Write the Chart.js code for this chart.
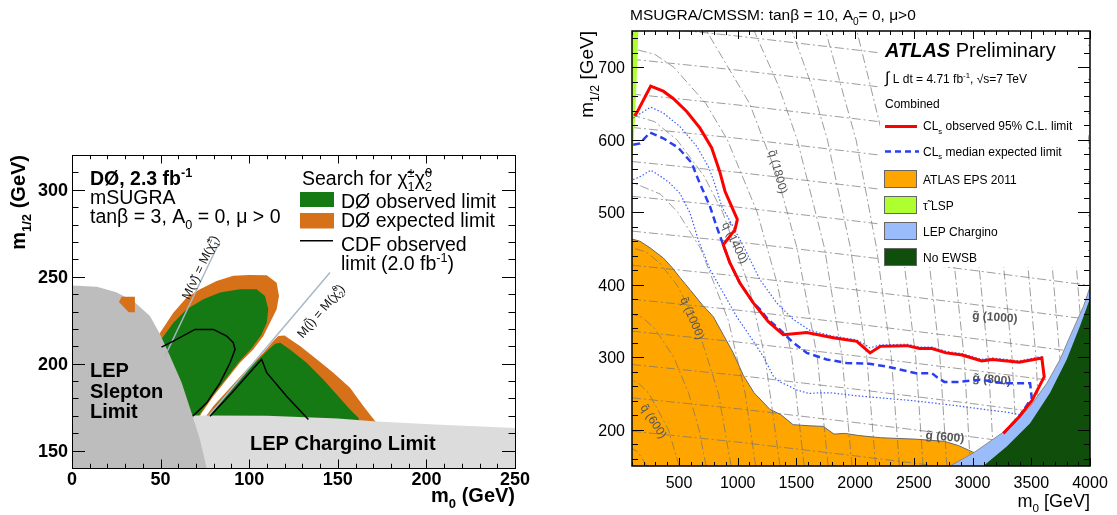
<!DOCTYPE html>
<html lang="en">
<head>
<meta charset="UTF-8">
<title>mSUGRA exclusion limits</title>
<script src="https://cdn.jsdelivr.net/npm/chart.js"></script>
<style>
  body { margin: 0; background: #fff; width: 1117px; height: 515px; overflow: hidden; position: relative; }
  .panel { position: absolute; }
  #leftBox { left: 0; top: 140px; width: 540px; height: 375px; }
  #rightBox { left: 560px; top: 0; width: 557px; height: 515px; }
</style>
</head>
<body>
<div class="panel" id="leftBox"><canvas id="leftChart"></canvas></div>
<div class="panel" id="rightBox"><canvas id="rightChart"></canvas></div>
<script>
// ---------- left panel (D0, m0 vs m1/2) ----------
const leftXTicks = [0, 50, 100, 150, 200, 250];
const leftYTicks = [150, 200, 250, 300];

const lepSlepton = [[0,140],[0,245],[14,244.3],[25,241],[34.6,236],[44,227.4],[49.7,216.9],[55.3,204.4],[61.9,189],[67.5,171.7],[72.2,156.4],[76,140]];
const lepChargino = [[0,140],[0,170.5],[110,170],[150,168.5],[172,166.8],[205,165],[250,163],[250,140]];
const d0ExpUpper = [[60,166],[43,205],[47,213],[49.7,217.8],[57.2,229.3],[64.7,238],[72.2,242.8],[81.6,247.6],[91,250.5],[100,251],[109.9,250.8],[115.5,246.6],[116.8,238.9],[115.5,231.3],[112.7,225.5],[108,215.9],[102.3,208.2],[94.8,200.5],[87.3,190.9],[79.8,181.3],[73.2,171.7],[70,166]];
const d0ObsUpper = [[60,166],[45,205],[49.7,213],[57.2,223.6],[64.7,231.3],[74.1,237],[83.5,240.9],[94.8,242.8],[104.2,242.8],[108.9,238.9],[110.8,231.3],[109.9,223.6],[106.8,216.5],[101.5,209],[94.2,201],[86.7,191.2],[79.2,181.6],[72.7,172],[69.6,166]];
const d0ExpLower = [[73,166],[75,168.9],[79.8,175.6],[89.2,186.1],[98.6,196.7],[108,206.3],[113.6,213],[116.4,215.9],[120,216.2],[123,214],[128.7,210.1],[138.1,202.5],[147.5,194.8],[156.9,186.1],[164.4,175.6],[171,167],[172,166]];
const d0ObsLower = [[76,166],[76.5,168.9],[81,175.6],[90.2,186.1],[99.6,196.7],[109,206.3],[114.6,211.5],[117.5,212],[123,208.2],[132.4,200.5],[141.8,190.9],[149.4,182.3],[156.9,173.7],[161.6,168.9],[162.5,166]];
const d0ExpPatch = [[26.5,235.5],[28,238.5],[35.5,238.5],[35.5,229.5],[32,229.5]];
const cdfLeft = [[50.5,209.5],[57.2,213],[69.4,219.7],[79.8,219.7],[87.3,215.9],[91,212.1],[92,208.2],[89.2,200.5],[83.5,189],[76,177.5],[68.1,169.8]];
const cdfRight = [[77.9,169.8],[90,183],[100,194.5],[107,202.5],[109.9,194.8],[121.1,181.3],[133.4,167.9]];
const sneutrinoLine = [[52.5,204.4],[82.6,268.7]];
const sleptonLine = [[76.9,169.8],[145.6,252.4]];

// ---------- right panel (ATLAS, m0 vs m1/2) ----------
const rightXTicks = [500, 1000, 1500, 2000, 2500, 3000, 3500, 4000];
const rightYTicks = [200, 300, 400, 500, 600, 700];

const obsM0  = [120,140,259,366,451,566,679,778,849,892,962,997,977,877,934,1020,1133,1261,1388,1588,1814,2014,2127,2212,2442,2548,2654,2775,2911,3078,3169,3397,3590,3610,3505,3397,3262];
const obsM12 = [633,637,674,667,657,639,616,589,555,529,503,490,476,455,430,402,375,349,331,334,327,322,306,315,316,312,312,306,303,295,297,293,299,273,240,218,195];
const expM0  = [110,168,253,366,494,608,664,764,821,877,934,1020,1133,1190,1260,1360,1460,1588,1758,1928,2124,2275,2518,2654,2700,2760,2882,3063,3275,3490,3504,3397,3262];
const expM12 = [593,595,610,602,589,568,545,508,480,455,430,402,375,366,352,338,322,306,297,292,291,287,278,278,272,266,266,269,264,264,244,218,195];
const upM0   = [110,259,366,509,651,750,792,821,864,962,1077,1190,1332,1474,1616,1814,2014,2127,2212,2442,2548,2654,2775,2911,3078,3169,3397,3590,3612,3507,3397,3262];
const upM12  = [630,645,637,618,591,563,545,531,508,480,444,407,375,352,337,329,324,313,317,318,314,314,308,305,297,299,295,301,274,241,219,196];
const dnM0   = [110,180,259,340,423,508,594,664,764,877,991,1105,1218,1303,1360,1427,1500,1608,1700,1790,2000,2215,2500,2821,3100,3300,3397];
const dnM12  = [545,550,558,550,540,526,499,462,421,389,356,329,301,274,266,261,255,250,251,251,247,244,240,234,228,224,221];

const epsM0  = [100,168,253,366,440,508,600,700,792,877,962,1048,1139,1275,1366,1472,1608,1729,1820,1911,2032,2215,2518,2760,2882,3018,3060,100];
const epsM12 = [463,460,451,437,424,410,392,372,356,331,306,275,251,228,221,207,205.5,204.6,194,195,192,189,187,184,178,168,150,150];
const lspM0  = [100,154,137,125,110,100];
const lspM12 = [750,750,673,627,591,568];
const lepcM0  = [2808,3007,3291,3490,3632,3745,3830,3944,4000,4000];
const lepcM12 = [150,168,200,232,264,297,329,370,397,150];
const ewsbM0  = [3092,3291,3490,3660,3802,3915,4000,4000];
const ewsbM12 = [150,177,209,251,297,343,381,150];

// gluino iso-mass contours, m1/2 at these m0 values
const gluinoM0 = [100, 1000, 2000, 3000, 4000];
const gluinoM12 = [
  [198,183,164,144,123], [244,229,210,190,169], [290,275,256,236,215],
  [336,321,302,282,261], [380,365,346,326,305], [427,412,393,373,352],
  [474,459,440,420,399], [522,507,488,468,447], [570,555,536,516,495],
  [617,602,583,563,542], [663,648,629,609,588], [711,696,677,657,636],
  [758,743,724,704,683], [805,790,771,751,730]
];
// squark iso-mass contours, [m0, m1/2] points
const squarkLines = [
  [[228,150],[146,170],[0,183]],
  [[502,150],[410,200],[245,250],[151,265],[0,274]],
  [[731,150],[671,200],[583,250],[456,300],[292,340],[187,355],[0,365]],
  [[944,150],[836,250],[642,350],[482,400],[335,430],[222,445],[0,456]],
  [[1153,150],[1064,250],[922,350],[684,450],[490,500],[342,525],[0,548]],
  [[1360,150],[1233,300],[1092,400],[872,500],[713,550],[482,600],[292,625],[0,639]],
  [[1566,150],[1461,300],[1339,400],[1166,500],[912,600],[729,650],[456,700],[292,718],[0,730]],
  [[1770,150],[1678,300],[1506,450],[1337,550],[1101,650],[735,750]],
  [[1973,150],[1889,300],[1740,450],[1507,600],[1346,675],[1140,750]],
  [[2175,150],[2099,300],[1961,450],[1764,600],[1629,675],[1463,750]],
  [[2377,150],[2308,300],[2183,450],[2008,600],[1749,750]],
  [[2579,150],[2516,300],[2402,450],[2243,600],[2015,750]],
  [[2781,150],[2722,300],[2617,450],[2472,600],[2267,750]],
  [[2982,150],[2928,300],[2830,450],[2697,600],[2510,750]],
  [[3183,150],[3132,300],[3040,450],[2918,600],[2746,750]],
  [[3384,150],[3336,300],[3250,450],[3136,600],[2977,750]],
  [[3585,150],[3540,300],[3458,450],[3351,600],[3203,750]],
  [[3786,150],[3743,300],[3666,450],[3565,600],[3426,750]],
  [[3986,150],[3945,300],[3872,450],[3778,600],[3647,750]],
  [[4187,150],[4148,300],[4083,450],[3989,600],[3865,750]]
];
const isoLabels = [
  { t: 'q̃ (1800)', m0: 1345, m12: 556, rot: 75, bold: false },
  { t: 'q̃ (1400)', m0: 980, m12: 458, rot: 64, bold: false },
  { t: 'q̃ (1000)', m0: 617, m12: 354, rot: 67, bold: false },
  { t: 'q̃ (600)', m0: 287, m12: 212, rot: 57, bold: false },
  { t: 'g̃ (1000)', m0: 3190, m12: 356, rot: 4, bold: true },
  { t: 'g̃ (800)', m0: 3165, m12: 270, rot: 5, bold: true },
  { t: 'g̃ (600)', m0: 2765, m12: 191, rot: 5, bold: true }
];

const FONT = '"Liberation Sans", Arial, Helvetica, sans-serif';
const D0_GREEN = '#167a14';
const D0_ORANGE = '#d6711a';
const EPS_ORANGE = '#ffa500';
const LSP_GREEN = '#adff2f';
const LEP_BLUE = '#9bbcfa';
const EWSB_GREEN = '#104e0b';

const pairs = list => list.map(p => ({ x: p[0], y: p[1] }));
const zip = (xs, ys) => xs.map((x, i) => ({ x, y: ys[i] }));

function area(data, color, order, border) {
  return { data, backgroundColor: color, borderColor: border || 'rgba(0,0,0,0)', borderWidth: border ? 1 : 0, fill: 'shape', order, pointRadius: 0 };
}
function curve(data, color, width, dash, order) {
  return { data, borderColor: color, borderWidth: width, borderDash: dash || [], fill: false, order, pointRadius: 0 };
}

// text with sub/superscripts
function richText(ctx, parts, x, y, size, o = {}) {
  const pre = (o.italic ? 'italic ' : '') + (o.bold ? 'bold ' : '');
  const small = size * 0.65;
  const font = s => pre + s + 'px ' + FONT;
  const runs = parts.map(p => {
    const r = typeof p === 'string' ? { t: p } : Object.assign({}, p);
    if (r.stack) {
      ctx.font = font(small);
      r.w = Math.max(ctx.measureText(r.stack[0]).width, ctx.measureText(r.stack[1]).width);
    } else if (r.sub || r.sup) {
      ctx.font = font(small);
      r.w = ctx.measureText(r.sub || r.sup).width;
    } else {
      ctx.font = font(r.size || size);
      r.w = ctx.measureText(r.t).width;
    }
    return r;
  });
  const total = runs.reduce((s, r) => s + r.w, 0);
  let cx = o.align === 'right' ? x - total : o.align === 'center' ? x - total / 2 : x;
  ctx.textAlign = 'left';
  ctx.textBaseline = 'alphabetic';
  const up = size * 0.42, down = size * 0.3;
  for (const r of runs) {
    if (r.stack) {
      ctx.font = font(small);
      ctx.fillText(r.stack[0], cx, y - up);
      ctx.fillText(r.stack[1], cx, y + down);
    } else if (r.sub) {
      ctx.font = font(small);
      ctx.fillText(r.sub, cx, y + down);
    } else if (r.sup) {
      ctx.font = font(small);
      ctx.fillText(r.sup, cx, y - up);
    } else {
      ctx.font = font(r.size || size);
      ctx.fillText(r.t, cx, y);
    }
    cx += r.w;
  }
  return total;
}

const isMajor = (v, step) => Math.abs(v / step - Math.round(v / step)) < 1e-6;

function drawFrameTicks(ctx, a, sx, sy, t) {
  ctx.save();
  ctx.setLineDash([]);
  ctx.strokeStyle = '#000';
  ctx.lineWidth = 1;
  ctx.beginPath();
  for (let v = sx.min; v <= sx.max + 1e-6; v += t.xStep) {
    const px = Math.round(sx.getPixelForValue(v)) + 0.5;
    const len = isMajor(v, t.xMajor) ? t.xLen : t.xLen / 2;
    ctx.moveTo(px, a.bottom); ctx.lineTo(px, a.bottom - len);
    ctx.moveTo(px, a.top); ctx.lineTo(px, a.top + len);
  }
  for (let v = t.yFirst; v <= sy.max + 1e-6; v += t.yStep) {
    const py = Math.round(sy.getPixelForValue(v)) + 0.5;
    const len = isMajor(v, t.yMajor) ? t.yLen : t.yLen / 2;
    ctx.moveTo(a.left, py); ctx.lineTo(a.left + len, py);
    ctx.moveTo(a.right, py); ctx.lineTo(a.right - len, py);
  }
  ctx.stroke();
  ctx.lineWidth = t.frame;
  const o = t.frame % 2 === 1 ? 0.5 : 0;
  ctx.strokeRect(a.left + o, a.top + o, a.right - a.left, a.bottom - a.top);
  ctx.restore();
}

function rotatedLabel(ctx, parts, x, y, deg, size, o) {
  ctx.save();
  ctx.translate(x, y);
  ctx.rotate(deg * Math.PI / 180);
  richText(ctx, parts, 0, size * 0.35, size, Object.assign({ align: 'center' }, o));
  ctx.restore();
}

const leftDecor = {
  id: 'leftDecor',
  afterDatasetsDraw(chart) {
    const { ctx, scales: { x, y } } = chart;
    ctx.save();
    ctx.fillStyle = '#111';
    rotatedLabel(ctx, ['M(ν̃) = M(χ̃', { stack: ['±', '1'] }, ')'], x.getPixelForValue(72.2), y.getPixelForValue(255.5), -64.5, 12.5);
    rotatedLabel(ctx, ['M(l̃) = M(χ̃', { stack: ['0', '2'] }, ')'], x.getPixelForValue(140.3), y.getPixelForValue(230.3), -49.7, 12.5);
    ctx.restore();
  },
  afterDraw(chart) {
    const { ctx, chartArea: a, scales: { x, y } } = chart;
    drawFrameTicks(ctx, a, x, y, { frame: 1, xStep: 10, xMajor: 50, xLen: 8.5, yFirst: 140, yStep: 10, yMajor: 50, yLen: 13 });
    ctx.save();
    ctx.fillStyle = '#000';
    ctx.font = 'bold 18px ' + FONT;
    ctx.textBaseline = 'alphabetic';
    ctx.textAlign = 'center';
    leftXTicks.forEach(v => ctx.fillText(String(v), x.getPixelForValue(v), 344.5));
    ctx.textAlign = 'right';
    leftYTicks.forEach(v => ctx.fillText(String(v), 68, y.getPixelForValue(v) + 6.5));

    richText(ctx, ['m', { sub: '0' }, ' (GeV)'], a.right, 362, 20, { bold: true, align: 'right' });
    ctx.save();
    ctx.translate(25, a.top);
    ctx.rotate(-Math.PI / 2);
    richText(ctx, ['m', { sub: '1/2' }, ' (GeV)'], 0, 0, 20, { bold: true, align: 'right' });
    ctx.restore();

    richText(ctx, ['DØ, 2.3 fb', { sup: '-1' }], 90, 45, 19.5, { bold: true });
    richText(ctx, ['mSUGRA'], 90, 63.5, 19.5);
    richText(ctx, ['tanβ = 3, A', { sub: '0' }, ' = 0, μ > 0'], 90, 83, 19.5);

    richText(ctx, ['Search for χ̃', { stack: ['±', '1'] }, 'χ̃', { stack: ['0', '2'] }], 302, 45, 19.5);
    ctx.fillStyle = D0_GREEN; ctx.fillRect(300, 52, 34, 15);
    ctx.fillStyle = D0_ORANGE; ctx.fillRect(300, 73, 34, 15.5);
    ctx.strokeStyle = '#000'; ctx.lineWidth = 1.5;
    ctx.beginPath(); ctx.moveTo(300, 100.7); ctx.lineTo(333, 100.7); ctx.stroke();
    ctx.fillStyle = '#000';
    richText(ctx, ['DØ observed limit'], 341, 68, 19.5);
    richText(ctx, ['DØ expected limit'], 341, 86.5, 19.5);
    richText(ctx, ['CDF observed'], 341, 110.5, 19.5);
    richText(ctx, ['limit (2.0 fb', { sup: '-1' }, ')'], 341, 130, 19.5);

    richText(ctx, ['LEP'], 90, 237, 20, { bold: true });
    richText(ctx, ['Slepton'], 90, 257.5, 20, { bold: true });
    richText(ctx, ['Limit'], 90, 278, 20, { bold: true });
    richText(ctx, ['LEP Chargino Limit'], 250, 310, 20, { bold: true });
    ctx.restore();
  }
};

new Chart(document.getElementById('leftChart'), {
  type: 'line',
  data: {
    datasets: [
      curve(pairs(cdfLeft), '#000', 1.5, null, 0),
      curve(pairs(cdfRight), '#000', 1.5, null, 0),
      curve(pairs(sneutrinoLine), '#a8b8c8', 1.5, null, 1),
      curve(pairs(sleptonLine), '#a8b8c8', 1.5, null, 1),
      area(pairs(d0ExpPatch), D0_ORANGE, 2),
      area(pairs(lepSlepton), '#bdbdbd', 3),
      area(pairs(lepChargino), '#dcdcdc', 4),
      area(pairs(d0ObsUpper), D0_GREEN, 5),
      area(pairs(d0ObsLower), D0_GREEN, 5),
      area(pairs(d0ExpUpper), D0_ORANGE, 6),
      area(pairs(d0ExpLower), D0_ORANGE, 6)
    ]
  },
  options: {
    responsive: true,
    maintainAspectRatio: false,
    animation: false,
    devicePixelRatio: 1,
    events: [],
    layout: { padding: { left: 72, right: 25, top: 15, bottom: 47 } },
    scales: {
      x: { type: 'linear', min: 0, max: 250, display: false },
      y: { type: 'linear', min: 140, max: 320, display: false }
    },
    elements: { point: { radius: 0 }, line: { tension: 0 } },
    plugins: { legend: { display: false }, tooltip: { enabled: false } }
  },
  plugins: [leftDecor]
});

const rightDecor = {
  id: 'rightDecor',
  afterDatasetDraw(chart, args) {
    if (!chart.data.datasets[args.index].isoTop) return;
    const { ctx, scales: { x, y } } = chart;
    ctx.save();
    ctx.fillStyle = '#555';
    isoLabels.forEach(l => {
      rotatedLabel(ctx, [l.t], x.getPixelForValue(l.m0), y.getPixelForValue(l.m12), l.rot, 12, { bold: l.bold });
    });
    ctx.restore();
  },
  afterDatasetsDraw(chart) {
    const { ctx } = chart;
    ctx.save();
    ctx.fillStyle = '#fff';
    ctx.fillRect(320, 32, 208, 235);
    ctx.fillStyle = '#000';
    const w = richText(ctx, ['ATLAS'], 325, 57, 20, { bold: true, italic: true });
    richText(ctx, [' Preliminary'], 325 + w, 57, 20);
    richText(ctx, [{ t: '∫', size: 16 }, ' L dt = 4.71 fb', { sup: '-1' }, ', √s=7 TeV'], 325, 83, 12);
    richText(ctx, ['Combined'], 325, 107.5, 12);

    ctx.strokeStyle = '#ff0000'; ctx.lineWidth = 3;
    ctx.beginPath(); ctx.moveTo(325, 126.5); ctx.lineTo(357, 126.5); ctx.stroke();
    ctx.strokeStyle = '#2a3ff0'; ctx.lineWidth = 2.5; ctx.setLineDash([6, 4]);
    ctx.beginPath(); ctx.moveTo(325, 151.5); ctx.lineTo(359, 151.5); ctx.stroke();
    ctx.setLineDash([]);
    ctx.lineWidth = 1; ctx.strokeStyle = '#666';
    [[EPS_ORANGE, 170.5], [LSP_GREEN, 196.5], [LEP_BLUE, 222.5], [EWSB_GREEN, 248.5]].forEach(([c, top]) => {
      ctx.fillStyle = c; ctx.fillRect(324.5, top, 32, 17);
      ctx.strokeRect(324.5, top, 32, 17);
    });
    ctx.fillStyle = '#000';
    richText(ctx, ['CL', { sub: 's' }, ' observed 95% C.L. limit'], 363, 130, 12);
    richText(ctx, ['CL', { sub: 's' }, ' median expected limit'], 363, 155.5, 12);
    richText(ctx, ['ATLAS EPS 2011'], 363, 183.5, 12);
    richText(ctx, ['τ̃ LSP'], 363, 209.5, 12);
    richText(ctx, ['LEP Chargino'], 363, 235.5, 12);
    richText(ctx, ['No EWSB'], 363, 261.5, 12);
    ctx.restore();
  },
  afterDraw(chart) {
    const { ctx, chartArea: a, scales: { x, y } } = chart;
    drawFrameTicks(ctx, a, x, y, { frame: 1.5, xStep: 100, xMajor: 500, xLen: 8, yFirst: 160, yStep: 20, yMajor: 100, yLen: 12 });
    ctx.save();
    ctx.fillStyle = '#000';
    ctx.font = '16px ' + FONT;
    ctx.textBaseline = 'alphabetic';
    ctx.textAlign = 'center';
    rightXTicks.forEach(v => ctx.fillText(String(v), x.getPixelForValue(v), 487.5));
    ctx.textAlign = 'right';
    rightYTicks.forEach(v => ctx.fillText(String(v), 65, y.getPixelForValue(v) + 5.8));

    richText(ctx, ['m', { sub: '0' }, ' [GeV]'], a.right, 507, 18, { align: 'right' });
    ctx.save();
    ctx.translate(33, a.top);
    ctx.rotate(-Math.PI / 2);
    richText(ctx, ['m', { sub: '1/2' }, ' [GeV]'], 0, 0, 19, { align: 'right' });
    ctx.restore();
    richText(ctx, ['MSUGRA/CMSSM: tanβ = 10, A', { sub: '0' }, '= 0, μ>0'], 70, 20, 15.5);
    ctx.restore();
  }
};

const isoStyle = { color: 'rgba(115,115,115,0.7)', dash: [9, 3, 2, 3] };
const rightSets = [
  curve(zip(obsM0, obsM12), '#ff0000', 3, null, 0),
  curve(zip(expM0, expM12), '#2a3ff0', 2.5, [7, 4], 1),
  curve(zip(upM0, upM12), '#3a5cff', 1.2, [1.5, 2], 2),
  curve(zip(dnM0, dnM12), '#3a5cff', 1.2, [1.5, 2], 3),
  area(zip(ewsbM0, ewsbM12), EWSB_GREEN, 4),
  area(zip(lepcM0, lepcM12), LEP_BLUE, 5, '#8a8a8a'),
  area(zip(lspM0, lspM12), LSP_GREEN, 6)
];
gluinoM12.forEach((row, i) => {
  const ds = curve(zip(gluinoM0, row), isoStyle.color, 1, isoStyle.dash, 7);
  if (i === 0) ds.isoTop = true;
  rightSets.push(ds);
});
squarkLines.forEach(line => rightSets.push(curve(pairs(line), isoStyle.color, 1, isoStyle.dash, 7)));
rightSets.push(area(zip(epsM0, epsM12), EPS_ORANGE, 8, '#666'));

new Chart(document.getElementById('rightChart'), {
  type: 'line',
  data: { datasets: rightSets },
  options: {
    responsive: true,
    maintainAspectRatio: false,
    animation: false,
    devicePixelRatio: 1,
    events: [],
    layout: { padding: { left: 72, right: 27, top: 31, bottom: 49 } },
    scales: {
      x: { type: 'linear', min: 100, max: 4000, display: false },
      y: { type: 'linear', min: 150, max: 750, display: false }
    },
    elements: { point: { radius: 0 }, line: { tension: 0 } },
    plugins: { legend: { display: false }, tooltip: { enabled: false } }
  },
  plugins: [rightDecor]
});
</script>
</body>
</html>
